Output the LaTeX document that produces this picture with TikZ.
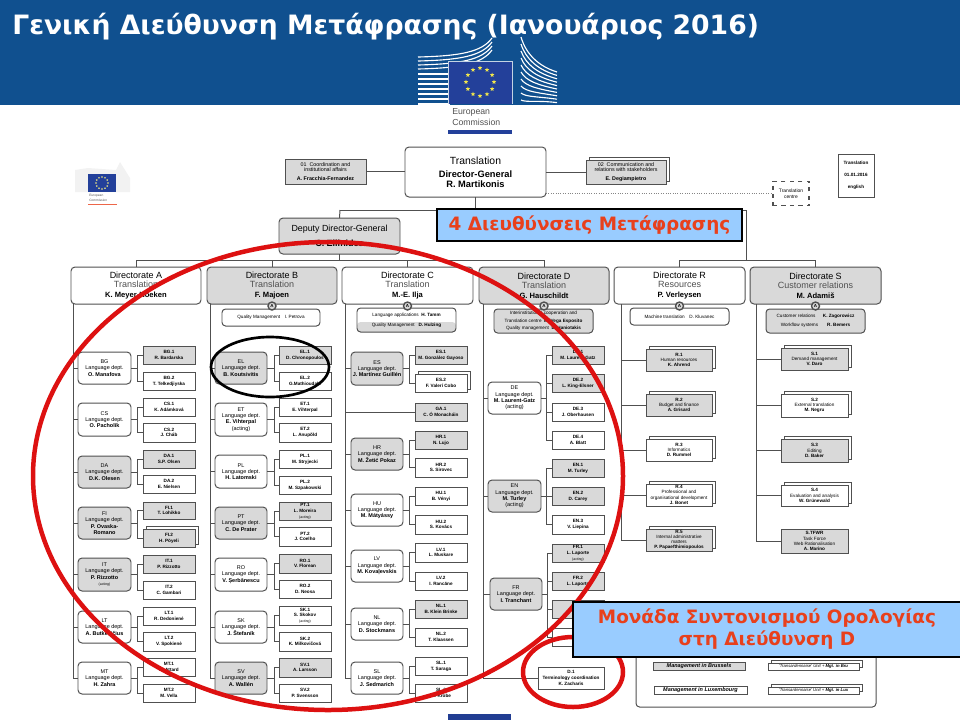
\documentclass[tikz,border=0pt]{standalone}
\usepackage{fontspec}
\setmainfont{Liberation Sans}
\newfontfamily\callfont{DejaVu Sans}
\usetikzlibrary{shapes.geometric,shadows}

\definecolor{bannerblue}{HTML}{10508F}
\definecolor{flagblue}{HTML}{23409A}
\definecolor{staryellow}{HTML}{F2E74B}
\definecolor{boxgrey}{HTML}{D9D9D9}
\definecolor{linegrey}{HTML}{505050}
\definecolor{subgrey}{HTML}{505050}
\definecolor{callblue}{HTML}{99CCFF}
\definecolor{callred}{HTML}{E8401C}
\definecolor{ringred}{HTML}{DD1111}

\tikzset{
	orgline/.style={draw=linegrey,line width=0.7pt},
	orgnode/.style={draw=linegrey,line width=0.7pt,inner sep=0pt,outer sep=0pt,align=center,text=black},
	dirbox/.style={orgnode,fill=white,rounded corners=1mm,font=\fontsize{6.4}{6.8}\selectfont},
	dirgrey/.style={dirbox,fill=boxgrey},
	deptbox/.style={orgnode,fill=white,rounded corners=1mm,font=\fontsize{3.9}{4.5}\selectfont},
	deptgrey/.style={deptbox,fill=boxgrey},
	unitbox/.style={orgnode,fill=white,font=\fontsize{3.3}{4.1}\selectfont\bfseries},
	unitgrey/.style={unitbox,fill=boxgrey},
	stackwhite/.style={unitbox,copy shadow={shadow xshift=0.8mm,shadow yshift=0.7mm,draw=linegrey,fill=white,line width=0.7pt}},
	stackgrey/.style={stackwhite,fill=boxgrey},
	staffbox/.style={orgnode,fill=white,rounded corners=0.9mm,font=\fontsize{3.3}{4.4}\selectfont},
	staffgrey/.style={staffbox,fill=boxgrey},
	markcircle/.style={circle,draw=linegrey,line width=1pt,fill=boxgrey,inner sep=0pt,minimum size=2mm,font=\fontsize{3.2}{3.2}\selectfont\bfseries},
	callbox/.style={draw=black,line width=0.8pt,fill=callblue,inner sep=0pt,align=center,text=callred,font=\callfont\fontsize{13.1}{15.6}\selectfont\bfseries},
	eustar/.style={star,star points=5,star point ratio=2.4,fill=staryellow,inner sep=0pt,minimum size=1.2mm},
	ministar/.style={star,star points=5,star point ratio=2.4,fill=staryellow!70!white,inner sep=0pt,minimum size=0.5mm},
	logostripe/.style={white,line width=0.8pt},
	ring/.style={line width=3.2pt},
}

% box given by its corners, in pixels of the reference
\newcommand{\orgbox}[7]{
	\node[#1,minimum width={(#5-#3)*0.25mm},minimum height={(#6-#4)*0.25mm}] (#2) at ({(#3+#5)/2},{(#4+#6)/2}) {#7};
}
\newcommand{\deptname}[2]{#1\\Language dept.\\\textbf{#2}}
\newcommand{\acting}{{\fontsize{2.5}{3}\selectfont\mdseries (acting)}}
\newcommand{\dirtext}[3]{#1\\\textcolor{subgrey}{#2}\\{\fontsize{5.4}{6.6}\selectfont\bfseries #3}}

\begin{document}
\begin{tikzpicture}[x=0.25mm,y=-0.25mm]
	\useasboundingbox (0,0) rectangle (960,720);
	\fill[bannerblue] (0,0) rectangle (960,105);

	% building behind the flag
	\foreach \yy/\tip in {57/38,61/42,65/46,69/50}
		\draw[logostripe] (418,\yy) .. controls (460,\yy-1) and (482,\yy-5) .. (492,\tip);
	\foreach \yy in {74,79,...,104}
		\draw[logostripe] (418,\yy) -- (450,\yy);
	\foreach \i in {0,...,9}
		\draw[logostripe] (521,37+7*\i) .. controls (526,54+5.4*\i) and (538,66+3.8*\i) .. (557,72+3.4*\i);
	\fill[flagblue] (448,61) rectangle (512,104);
	\draw[white!75!bannerblue,line width=0.5pt] (448,104) -- (448,61) -- (512,61) -- (512,104);
	\foreach \a in {0,30,...,330}
		\node[eustar] (star\a) at ({480+14*cos(\a)},{82+14*sin(\a)}) {};
	\node[anchor=west,inner sep=0pt,text=subgrey,font=\fontsize{6.2}{7}\selectfont] (euro) at (452,112) {European};
	\node[anchor=west,inner sep=0pt,text=subgrey,font=\fontsize{6.2}{7}\selectfont] (comm) at (452,122) {Commission};
	\fill[flagblue] (448,130) rectangle (512,134);
	\fill[flagblue!95!black] (448,714) rectangle (511,720);

	\node[anchor=west,inner sep=0pt,text=white,font=\callfont\fontsize{18.95}{22}\selectfont\bfseries] (title) at (12,27) {Γενική Διεύθυνση Μετάφρασης (Ιανουάριος 2016)};

	% small logo
	\fill[black!5] (75,170) -- (88,168) -- (116,170) -- (116,192) -- (75,192) -- cycle;
	\fill[black!5] (120,162) -- (130,178) -- (130,192) -- (116,192) -- (116,170) -- cycle;
	\fill[flagblue] (88,174) rectangle (116,192);
	\foreach \a in {0,30,...,330}
		\node[ministar] (ministar\a) at ({102+6*cos(\a)},{183+6*sin(\a)}) {};
	\node[anchor=west,inner sep=0pt,text=subgrey,font=\fontsize{2.3}{2.6}\selectfont] (minieuro) at (89,196) {European};
	\node[anchor=west,inner sep=0pt,text=subgrey,font=\fontsize{2.3}{2.6}\selectfont] (minicomm) at (89,200) {Commission};
	\fill[callred!80!white] (88,203.5) rectangle (117,205);

	% top of the chart
	\orgbox{dirbox}{transl}{405}{147}{546}{197}{{\fontsize{7.4}{10}\selectfont Translation}\\[3pt]{\fontsize{6.6}{9}\selectfont\bfseries Director-General}\\{\fontsize{6.6}{9}\selectfont\bfseries R. Martikonis}}
	\orgbox{unitgrey,font=\fontsize{3.8}{3.4}\selectfont\bfseries}{office01}{285}{159}{366}{184}{\mdseries 01\ \ Coordination and\\\mdseries institutional affairs\\[3pt]A. Fracchia-Fernandez}
	\orgbox{stackgrey,font=\fontsize{3.8}{3.4}\selectfont\bfseries}{office02}{586}{160}{666}{184}{\mdseries 02\ \ Communication and\\\mdseries relations with stakeholders\\[3pt]E. Degiampietro}
	\orgbox{unitbox}{datebox}{838}{154}{874}{197}{Translation\\[4.4pt]01.01.2016\\[4.4pt]english}
	\node[draw=linegrey,dashed,line width=0.8pt,inner sep=0pt,align=center,minimum width=9mm,minimum height=6.2mm,font=\fontsize{3.5}{4.6}\selectfont] (centre) at (791,193.5) {Translation\\centre};
	\orgbox{dirgrey}{deputy}{279}{218}{400}{254}{\fontsize{6.3}{7}\selectfont Deputy Director-General\\[3.8pt]\bfseries C. Ellinides}
	\draw[orgline] (office01.east) -- (office01.east -| transl.west);
	\draw[orgline] (office02.west) -- (office02.west -| transl.east);
	\draw[orgline,densely dotted,linegrey!70] (centre.west -| transl.east) -- (centre.west);

	\coordinate (trunkL) at (340,210);
	\coordinate (trunkR) at (746,210);
	\coordinate (barTL) at (136,260);
	\coordinate (barTR) at (746,260);
	\draw[orgline] (transl.south) -- (transl.south |- trunkL);
	\draw[orgline] (trunkL) -- (trunkR) -- (barTR);
	\draw[orgline] (trunkL) -- (deputy.north);
	\draw[orgline] (deputy.south) -- (deputy.south |- barTL);

	% directorates
	\foreach \nm/\xa/\xb/\sty/\txt in {
		dirA/71/201/dirbox/{\dirtext{Directorate A}{Translation}{K. Meyer-Koeken}},
		dirB/207/337/dirgrey/{\dirtext{Directorate B}{Translation}{F. Majoen}},
		dirC/342/473/dirbox/{\dirtext{Directorate C}{Translation}{M.-E. Ilja}},
		dirD/479/609/dirgrey/{\dirtext{Directorate D}{Translation}{G. Hauschildt}},
		dirR/614/745/dirbox/{\dirtext{Directorate R}{Resources}{P. Verleysen}},
		dirS/750/881/dirgrey/{\dirtext{Directorate S}{Customer relations}{M. Adamiš}}}
	{
		\orgbox{\sty}{\nm}{\xa}{267}{\xb}{304}{\txt}
		\draw[orgline] (\nm.north) -- (\nm.north |- barTL);
	}
	\draw[orgline] (dirA.north |- barTL) -- (dirD.north |- barTL);
	\draw[orgline] (dirR.north |- barTR) -- (dirS.north |- barTR);

	\coordinate (spineA) at (73,304);
	\coordinate (spineB) at (210,304);
	\coordinate (spineC) at (345,304);
	\coordinate (spineD) at (483,304);
	\coordinate (spineR) at (621,304);
	\coordinate (spineS) at (756,304);

	% Directorate A
	\foreach \nm/\ya/\yb/\sty/\txt in {
		BG/352/384/deptbox/{\deptname{BG}{O. Manafova}},
		CS/403/436/deptbox/{\deptname{CS}{O. Pacholík}},
		DA/456/488/deptgrey/{\deptname{DA}{D.K. Olesen}},
		FI/507/539/deptgrey/{\deptname{FI}{P. Ovaska-}\\\textbf{Romano}},
		IT/558/591/deptgrey/{\deptname{IT}{P. Rizzotto}\\\acting},
		LT/611/643/deptbox/{\deptname{LT}{A. Butkevičius}},
		MT/662/694/deptbox/{\deptname{MT}{H. Zahra}}}
	{
		\orgbox{\sty}{\nm}{78}{\ya}{131}{\yb}{\txt}
		\draw[orgline] (spineA |- \nm.west) -- (\nm.west);
	}
	\draw[orgline] (spineA) -- (spineA |- MT.west);
	\foreach \nm/\up/\ya/\yb/\sty/\txt in {
		BG1/BG/346/364/unitgrey/{BG.1\\R. Bardarska},
		BG2/BG/372/390/unitbox/{BG.2\\T. Telkedjiyska},
		CS1/CS/398/416/unitbox/{CS.1\\K. Adámková},
		CS2/CS/423/442/unitbox/{CS.2\\J. Cháb},
		DA1/DA/450/468/unitgrey/{DA.1\\S.P. Olsen},
		DA2/DA/475/493/unitbox/{DA.2\\E. Nielsen},
		FI1/FI/502/519/unitgrey/{FI.1\\T. Lohikko},
		FI2/FI/529/547/stackgrey/{FI.2\\H. Pöyeli},
		IT1/IT/555/573/unitgrey/{IT.1\\P. Rizzotto},
		IT2/IT/581/599/unitbox/{IT.2\\C. Gambari},
		LT1/LT/607/625/unitbox/{LT.1\\R. Dedonienė},
		LT2/LT/632/651/unitbox/{LT.2\\V. Spokienė},
		MT1/MT/658/676/unitbox/{MT.1\\A. Attard},
		MT2/MT/684/702/unitbox/{MT.2\\M. Vella}}
	{
		\orgbox{\sty}{\nm}{143}{\ya}{195}{\yb}{\txt}
		\draw[orgline] (\up.east) -- +(6,0) |- (\nm.west);
	}

	% Directorate B
	\orgbox{staffbox}{staffB}{222}{309}{320}{326}{Quality Management\quad I. Petrova}
	\foreach \nm/\ya/\yb/\sty/\txt in {
		EL/352/384/deptgrey/{\deptname{EL}{B. Koutsivitis}},
		ET/403/436/deptbox/{\deptname{ET}{E. Vihterpal}\\\mdseries (acting)},
		PL/455/488/deptbox/{\deptname{PL}{H. Latomski}},
		PT/507/539/deptgrey/{\deptname{PT}{C. De Prater}},
		RO/558/591/deptbox/{\deptname{RO}{V. Șerbănescu}},
		SK/611/643/deptbox/{\deptname{SK}{J. Štefaník}},
		SV/662/694/deptgrey/{\deptname{SV}{A. Wallén}}}
	{
		\orgbox{\sty}{\nm}{215}{\ya}{267}{\yb}{\txt}
		\draw[orgline] (spineB |- \nm.west) -- (\nm.west);
	}
	\draw[orgline] (spineB) -- (spineB |- SV.west);
	\foreach \nm/\up/\ya/\yb/\sty/\txt in {
		EL1/EL/346/364/unitgrey/{EL.1\\D. Chronopoulos},
		EL2/EL/372/390/unitbox/{EL.2\\G.Mathioudaki},
		ET1/ET/398/416/unitbox/{ET.1\\E. Vihterpal},
		ET2/ET/423/442/unitbox/{ET.2\\L. Anupõld},
		PL1/PL/450/468/unitbox/{PL.1\\M. Stryjecki},
		PL2/PL/476/494/unitbox/{PL.2\\M. Szpakowski},
		PT1/PT/502/520/unitgrey/{PT.1\\L. Moreira\\\acting},
		PT2/PT/527/546/unitbox/{PT.2\\J. Coelho},
		RO1/RO/554/573/unitgrey/{RO.1\\V. Florean},
		RO2/RO/580/598/unitbox/{RO.2\\D. Neosa},
		SK1/SK/606/625/unitbox/{SK.1\\S. Skokov\\\acting},
		SK2/SK/632/651/unitbox/{SK.2\\K. Milkovičová},
		SV1/SV/658/677/unitgrey/{SV.1\\A. Larsson},
		SV2/SV/684/702/unitbox/{SV.2\\P. Svensson}}
	{
		\orgbox{\sty}{\nm}{279}{\ya}{331}{\yb}{\txt}
		\draw[orgline] (\up.east) -- +(7,0) |- (\nm.west);
	}

	% Directorate C
	\orgbox{staffbox,path picture={\fill[boxgrey] (path picture bounding box.south west) rectangle ([yshift=2.5mm]path picture bounding box.south east);}}{staffC}{357}{308}{456}{332}{Language applications\ \ \textbf{H. Tamm}\\[2.6pt]Quality Management\ \ \ \textbf{D. Hulzing}}
	\foreach \nm/\ya/\yb/\sty/\txt in {
		ES/352/385/deptgrey/{\deptname{ES}{J. Martínez Guillén}},
		HR/438/470/deptgrey/{\deptname{HR}{M. Žetić Pokaz}},
		HU/494/526/deptbox/{\deptname{HU}{M. Mátyássy}},
		LV/550/582/deptbox/{\deptname{LV}{M. Kovaļevskis}},
		NL/608/640/deptbox/{\deptname{NL}{D. Stockmans}},
		SL/662/694/deptbox/{\deptname{SL}{J. Sedmarich}}}
	{
		\orgbox{\sty}{\nm}{351}{\ya}{403}{\yb}{\txt}
		\draw[orgline] (spineC |- \nm.west) -- (\nm.west);
	}
	\draw[orgline] (spineC) -- (spineC |- SL.west);
	\orgbox{unitgrey}{GA1}{415}{403}{467}{421}{GA.1\\C. Ó Monacháin}
	\draw[orgline] (spineC |- GA1.west) -- (GA1.west);
	\foreach \nm/\up/\ya/\yb/\sty/\txt in {
		ES1/ES/346/364/unitgrey/{ES.1\\M. González Gayoso},
		ES2/ES/374/392/stackwhite/{ES.2\\F. Valerí Cobo},
		HR1/HR/431/449/unitgrey/{HR.1\\N. Lujo},
		HR2/HR/458/477/unitbox/{HR.2\\S. Sirovec},
		HU1/HU/487/505/unitbox/{HU.1\\B. Vényi},
		HU2/HU/515/534/unitbox/{HU.2\\S. Kovács},
		LV1/LV/543/562/unitbox/{LV.1\\L. Muskare},
		LV2/LV/572/590/unitbox/{LV.2\\I. Rancāne},
		NL1/NL/600/618/unitgrey/{NL.1\\B. Klein Brinke},
		NL2/NL/628/646/unitbox/{NL.2\\T. Klaassen},
		SL1/SL/657/675/unitbox/{SL.1\\T. Saraga},
		SL2/SL/684/702/unitbox/{SL.2\\M. Krobe}}
	{
		\orgbox{\sty}{\nm}{415}{\ya}{467}{\yb}{\txt}
		\draw[orgline] (\up.east) -- +(6,0) |- (\nm.west);
	}

	% Directorate D
	\orgbox{staffgrey}{staffD}{494}{309}{593}{333}{Interinstitutional cooperation and\\[0.8pt]Translation centre\ \ \textbf{M. Vega Esposito}\\[0.8pt]Quality management\ \ \textbf{D. Haniotakis}}
	\foreach \nm/\xa/\xb/\ya/\yb/\sty/\txt in {
		DE/488/541/382/414/deptbox/{\deptname{DE}{M. Laurent-Gatz}\\\mdseries (acting)},
		EN/488/541/480/512/deptgrey/{\deptname{EN}{M. Turley}\\\mdseries (acting)},
		FR/490/542/578/610/deptgrey/{\deptname{FR}{I. Tranchant}}}
	{
		\orgbox{\sty}{\nm}{\xa}{\ya}{\xb}{\yb}{\txt}
		\draw[orgline] (spineD |- \nm.west) -- (\nm.west);
	}
	\foreach \nm/\up/\ya/\yb/\sty/\txt in {
		DE1/DE/346/364/unitgrey/{DE.1\\M. Laurent-Gatz},
		DE2/DE/374/392/unitgrey/{DE.2\\L. King-Elsner},
		DE3/DE/403/421/unitbox/{DE.3\\J. Oberhausen},
		DE4/DE/431/449/unitbox/{DE.4\\A. Blatt},
		EN1/EN/459/477/unitgrey/{EN.1\\M. Turley},
		EN2/EN/487/505/unitgrey/{EN.2\\D. Carey},
		EN3/EN/515/534/unitbox/{EN.3\\V. Liepina},
		FR1/FR/544/562/unitgrey/{FR.1\\L. Laporte\\\acting},
		FR2/FR/572/590/unitgrey/{FR.2\\L. Laporte},
		FR3/FR/600/618/unitgrey/{},
		FR4/FR/628/646/unitbox/{}}
	{
		\orgbox{\sty}{\nm}{552}{\ya}{604}{\yb}{\txt}
		\draw[orgline] (\up.east) -- +(5,0) |- (\nm.west);
	}
	\orgbox{unitbox}{D1}{538}{667}{604}{689}{D.1\\Terminology coordination\\K. Zacharis}
	\draw[orgline] (spineD) -- (spineD |- D1.west) -- (D1.west);

	% Directorate R
	\orgbox{staffbox}{staffR}{630}{308}{729}{325}{Machine translation\quad D. Kluvanec}
	\foreach \nm/\ya/\yb/\sty/\txt in {
		R1/349/371/stackgrey/{R.1\\\mdseries Human resources\\K. Ahrend},
		R2/394/416/stackgrey/{R.2\\\mdseries Budget and finance\\A. Grisard},
		R3/439/461/stackwhite/{R.3\\\mdseries Informatics\\D. Rummel},
		R4/484/506/stackwhite/{R.4\\\mdseries Professional and\\\mdseries organisational development\\J. Bonet},
		R5/529/551/stackgrey/{R.5\\\mdseries Internal administrative\\\mdseries matters\\P. Papaefthimiopoulos}}
	{
		\orgbox{\sty,font=\fontsize{3.3}{3.7}\selectfont\bfseries}{\nm}{646}{\ya}{712}{\yb}{\txt}
		\draw[orgline] (spineR |- \nm.west) -- (\nm.west);
	}
	\draw[orgline] (spineR) -- (spineR |- R5.west);

	% Directorate S
	\orgbox{staffgrey}{staffS}{766}{309}{865}{333}{\makebox[33pt][l]{Customer relations}\textbf{K. Zagorowicz}\\[2.4pt]\makebox[33pt][l]{Workflow systems}\textbf{R. Bemers}}
	\foreach \nm/\ya/\yb/\sty/\txt in {
		S1/348/370/stackgrey/{S.1\\\mdseries Demand management\\V. Daro},
		S2/394/417/stackwhite/{S.2\\\mdseries External translation\\M. Negru},
		S3/439/462/stackgrey/{S.3\\\mdseries Editing\\D. Baker},
		S4/485/506/stackwhite/{S.4\\\mdseries Evaluation and analysis\\W. Grünewald},
		S5/529/553/unitgrey/{S.TFWR\\\mdseries Task Force\\\mdseries Web Rationalisation\\A. Marino}}
	{
		\orgbox{\sty,font=\fontsize{3.3}{3.7}\selectfont\bfseries}{\nm}{781}{\ya}{848}{\yb}{\txt}
		\draw[orgline] (spineS |- \nm.west) -- (\nm.west);
	}
	\draw[orgline] (spineS) -- (spineS |- S5.west);

	\foreach \d in {B,C,D,R,S}
		\node[markcircle] (mark\d) at ([yshift=-0.5mm]dir\d.south) {A};

	% legend, its top is under the blue box
	\orgbox{staffbox}{legend}{636}{640}{876}{707}{}
	\orgbox{unitgrey,font=\fontsize{3.9}{4}\selectfont\bfseries\itshape}{mgtBru}{653}{662}{745}{670}{Management in Brussels}
	\orgbox{unitbox,font=\fontsize{3.9}{4}\selectfont\bfseries\itshape}{mgtLux}{654}{686}{747}{694}{Management in Luxembourg}
	\orgbox{stackwhite,font=\fontsize{3}{4}\selectfont\itshape}{transBru}{768}{663}{859}{670}{'Transardennaise' Unit + \textbf{Mgt. in Bru}}
	\orgbox{stackwhite,font=\fontsize{3}{4}\selectfont\itshape}{transLux}{768}{687}{859}{694}{'Transardennaise' Unit + \textbf{Mgt. in Lux}}

	% rings
	\draw[ringred,ring] (328,476) ellipse (295 and 234);
	\draw[ringred,ring] (573,672) ellipse (50 and 35);
	\draw[black,line width=1.9pt] (270,367) ellipse (59 and 30);

	% call-outs
	\orgbox{callbox}{callDir}{437}{209}{742}{241}{4 Διευθύνσεις Μετάφρασης}
	\orgbox{callbox}{callTerm}{573}{602}{961}{657}{Μονάδα Συντονισμού Ορολογίας\\στη Διεύθυνση D}
\end{tikzpicture}
\end{document}
